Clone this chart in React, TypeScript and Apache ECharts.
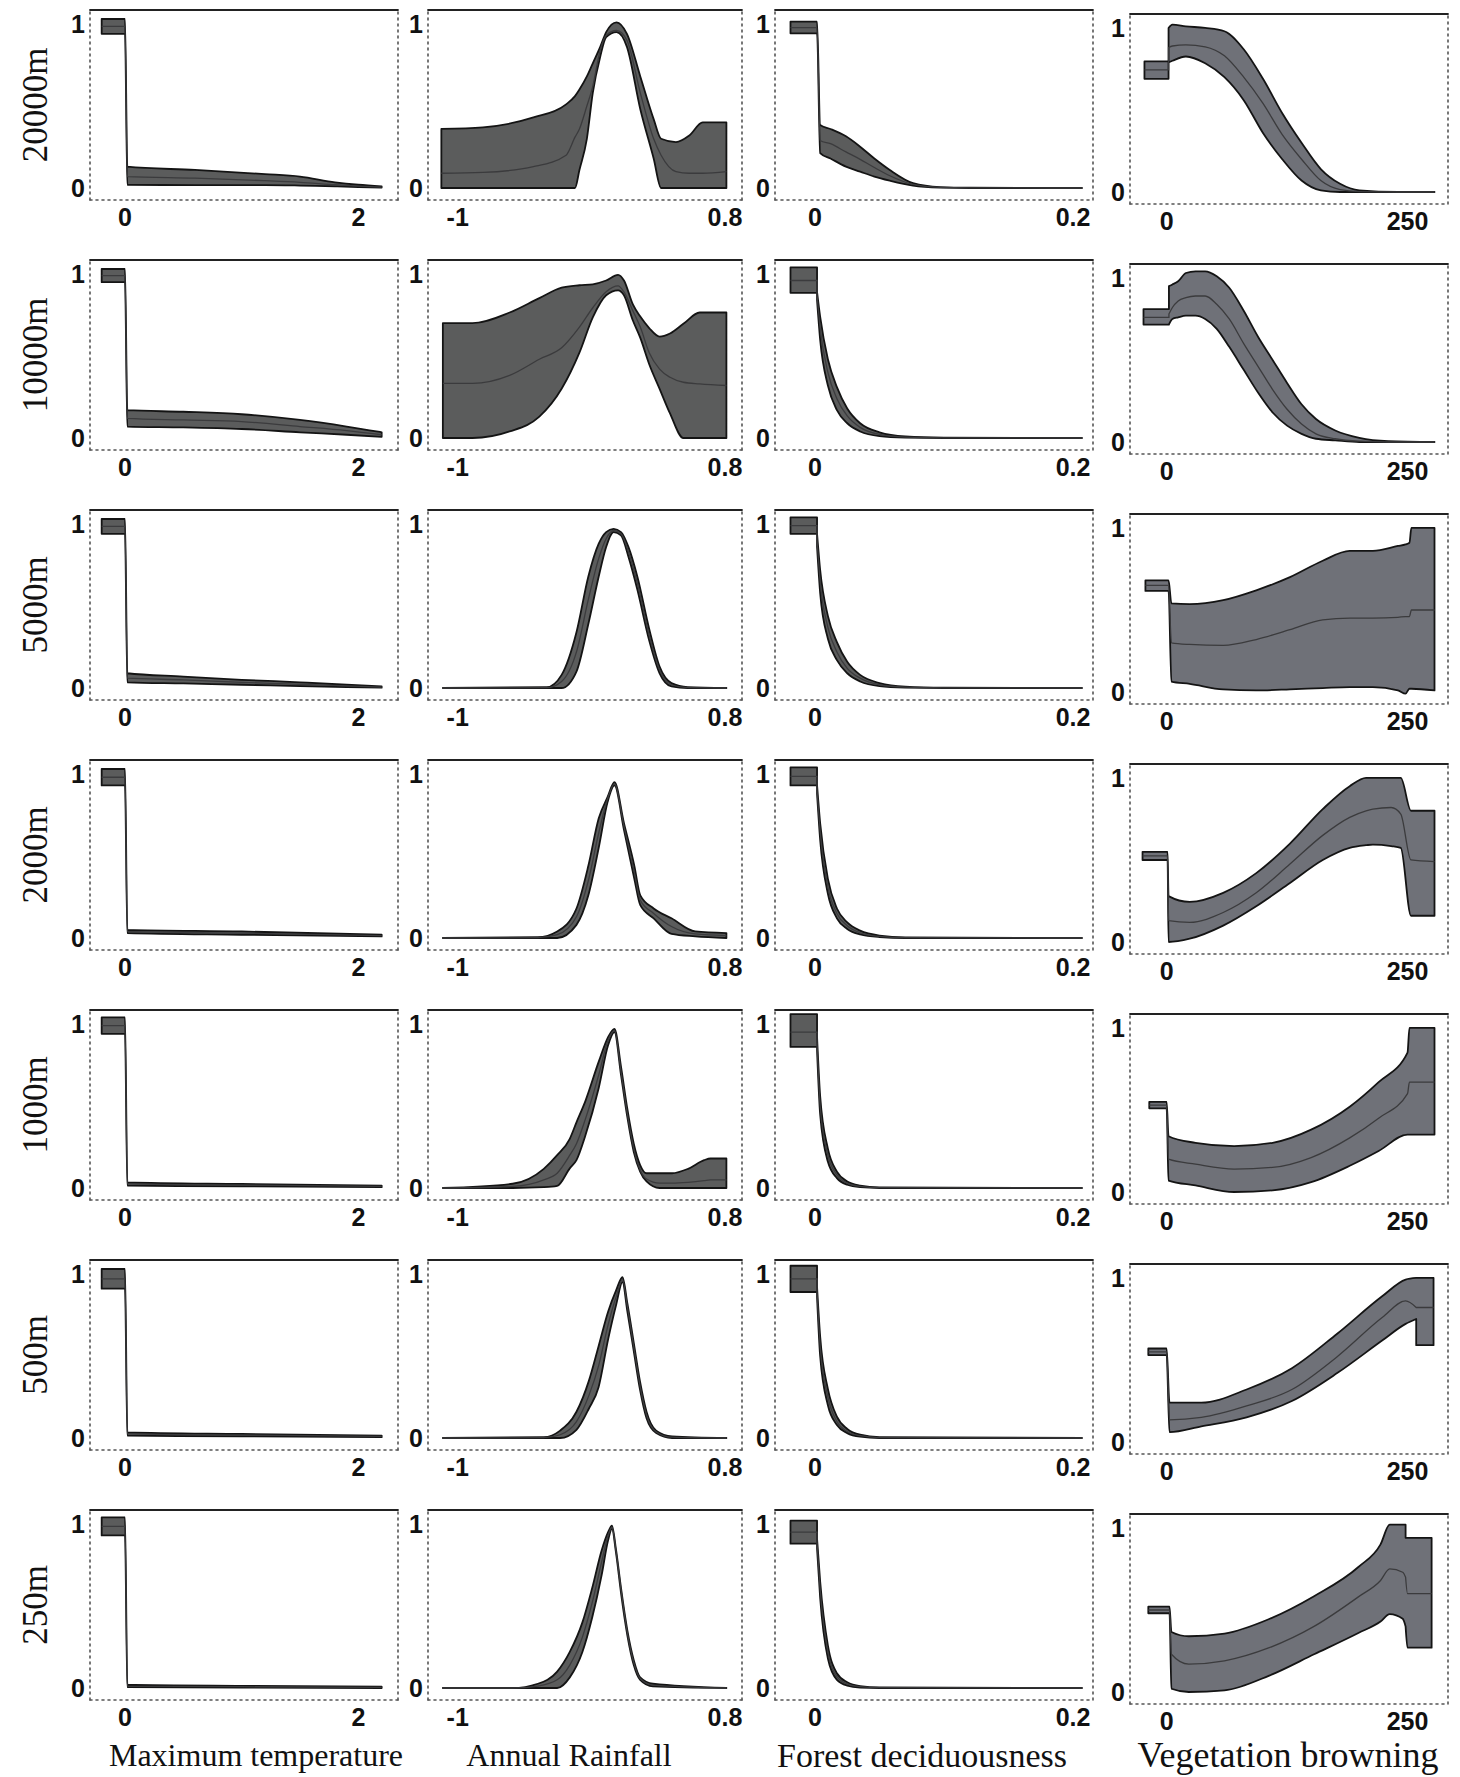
import React, { useEffect, useRef } from "react";
import * as echarts from "echarts";

// Each point: [x, lower, mean, upper]
type Pt = number[];

const rowLabels = ["20000m", "10000m", "5000m", "2000m", "1000m", "500m", "250m"];
const colTitles = ["Maximum temperature", "Annual Rainfall", "Forest deciduousness", "Vegetation browning"];
const colXRange = [[-0.3, 2.34], [-1.2, 0.915], [-0.031, 0.2155], [-38, 292]];
const colXTicks = [[0, 2], [-1, 0.8], [0, 0.2], [0, 250]];
const yTicks = [0, 1];

// ---- Maximum temperature ----
const mt20000: Pt[] = [[-0.2, 0.94, 0.985, 1.03], [0, 0.94, 0.985, 1.03], [0.02, 0.02, 0.07, 0.13], [0.6, 0.018, 0.06, 0.11], [1.2, 0.018, 0.045, 0.085], [1.5, 0.015, 0.035, 0.07], [1.8, 0.01, 0.02, 0.035], [2.0, 0.006, 0.012, 0.02], [2.2, 0.003, 0.006, 0.01]];
const mt10000: Pt[] = [[-0.2, 0.95, 0.99, 1.03], [0, 0.95, 0.99, 1.03], [0.02, 0.07, 0.12, 0.17], [0.5, 0.065, 0.11, 0.16], [1.0, 0.055, 0.1, 0.145], [1.5, 0.035, 0.07, 0.11], [1.9, 0.02, 0.045, 0.07], [2.2, 0.007, 0.02, 0.035]];
const mt5000: Pt[] = [[-0.2, 0.94, 0.985, 1.03], [0, 0.94, 0.985, 1.03], [0.02, 0.035, 0.06, 0.09], [0.5, 0.028, 0.05, 0.07], [1.0, 0.02, 0.035, 0.05], [1.5, 0.012, 0.022, 0.035], [1.9, 0.006, 0.013, 0.02], [2.2, 0.002, 0.006, 0.01]];
const mt2000: Pt[] = [[-0.2, 0.93, 0.98, 1.03], [0, 0.93, 0.98, 1.03], [0.02, 0.03, 0.04, 0.05], [1.0, 0.02, 0.03, 0.04], [2.2, 0.01, 0.015, 0.02]];
const mt1000: Pt[] = [[-0.2, 0.94, 0.99, 1.04], [0, 0.94, 0.99, 1.04], [0.02, 0.015, 0.025, 0.035], [1.0, 0.01, 0.018, 0.025], [2.2, 0.005, 0.01, 0.015]];
const mt500: Pt[] = [[-0.2, 0.91, 0.97, 1.03], [0, 0.91, 0.97, 1.03], [0.02, 0.015, 0.025, 0.035], [1.0, 0.01, 0.018, 0.025], [2.2, 0.005, 0.01, 0.015]];
const mt250: Pt[] = [[-0.2, 0.93, 0.985, 1.04], [0, 0.93, 0.985, 1.04], [0.02, 0.005, 0.012, 0.02], [1.0, 0.003, 0.008, 0.013], [2.2, 0, 0.004, 0.008]];

// ---- Annual rainfall ----
const ar20000: Pt[] = [[-1.11, 0, 0.09, 0.36], [-0.83, 0, 0.095, 0.37], [-0.49, 0, 0.13, 0.43], [-0.27, 0, 0.2, 0.51], [-0.21, 0, 0.31, 0.56], [-0.18, 0.11, 0.36, 0.6], [-0.13, 0.3, 0.5, 0.68], [-0.09, 0.58, 0.62, 0.76], [-0.04, 0.8, 0.84, 0.86], [0.0, 0.92, 0.93, 0.95], [0.07, 0.95, 0.96, 1.01], [0.14, 0.86, 0.9, 0.94], [0.23, 0.48, 0.58, 0.68], [0.32, 0.18, 0.3, 0.42], [0.37, 0, 0.2, 0.3], [0.47, 0, 0.1, 0.28], [0.56, 0, 0.09, 0.32], [0.65, 0, 0.09, 0.4], [0.81, 0, 0.1, 0.4]];
const ar10000: Pt[] = [[-1.1, 0, 0.333, 0.7], [-0.9, 0, 0.333, 0.7], [-0.65, 0.04, 0.382, 0.765], [-0.45, 0.13, 0.48, 0.853], [-0.3, 0.3, 0.55, 0.916], [-0.18, 0.52, 0.676, 0.931], [-0.09, 0.735, 0.794, 0.937], [0.0, 0.87, 0.892, 0.96], [0.08, 0.9, 0.927, 0.994], [0.12, 0.87, 0.89, 0.96], [0.18, 0.716, 0.775, 0.814], [0.23, 0.61, 0.676, 0.74], [0.29, 0.45, 0.52, 0.67], [0.36, 0.3, 0.42, 0.618], [0.43, 0.15, 0.37, 0.637], [0.52, 0, 0.34, 0.696], [0.63, 0, 0.33, 0.765], [0.81, 0, 0.32, 0.765]];
const ar5000: Pt[] = [[-1.1, 0, 0, 0], [-0.4, 0, 0.002, 0.005], [-0.3, 0, 0.04, 0.08], [-0.2, 0.1, 0.22, 0.34], [-0.12, 0.39, 0.54, 0.68], [-0.05, 0.68, 0.79, 0.88], [0.0, 0.86, 0.91, 0.95], [0.05, 0.95, 0.96, 0.97], [0.1, 0.93, 0.94, 0.95], [0.15, 0.8, 0.83, 0.86], [0.21, 0.6, 0.64, 0.68], [0.29, 0.29, 0.32, 0.36], [0.36, 0.09, 0.11, 0.13], [0.44, 0.01, 0.02, 0.03], [0.55, 0, 0.002, 0.005], [0.81, 0, 0, 0]];
const ar2000: Pt[] = [[-1.1, 0, 0, 0], [-0.46, 0, 0.002, 0.005], [-0.33, 0, 0.02, 0.04], [-0.2, 0.08, 0.13, 0.18], [-0.12, 0.26, 0.35, 0.44], [-0.05, 0.55, 0.64, 0.73], [0.01, 0.83, 0.85, 0.86], [0.056, 0.93, 0.94, 0.95], [0.12, 0.66, 0.68, 0.7], [0.19, 0.36, 0.4, 0.44], [0.23, 0.2, 0.23, 0.26], [0.32, 0.12, 0.15, 0.18], [0.44, 0.025, 0.07, 0.12], [0.6, 0.01, 0.025, 0.04], [0.81, 0, 0.015, 0.03]];
const ar1000: Pt[] = [[-1.1, 0, 0, 0], [-0.63, 0, 0.01, 0.026], [-0.42, 0.005, 0.05, 0.117], [-0.33, 0.013, 0.09, 0.2], [-0.245, 0.12, 0.2, 0.3], [-0.2, 0.17, 0.27, 0.4], [-0.14, 0.32, 0.42, 0.53], [-0.05, 0.61, 0.69, 0.77], [0.013, 0.87, 0.9, 0.92], [0.056, 0.95, 0.96, 0.97], [0.1, 0.69, 0.71, 0.74], [0.143, 0.43, 0.45, 0.48], [0.186, 0.22, 0.24, 0.27], [0.229, 0.1, 0.11, 0.14], [0.272, 0.04, 0.055, 0.09], [0.36, 0, 0.03, 0.09], [0.444, 0, 0.03, 0.09], [0.552, 0, 0.035, 0.117], [0.66, 0, 0.045, 0.17], [0.703, 0, 0.05, 0.18], [0.81, 0, 0.05, 0.18]];
const ar500: Pt[] = [[-1.1, 0, 0, 0], [-0.42, 0, 0.002, 0.005], [-0.31, 0, 0.02, 0.045], [-0.2, 0.05, 0.1, 0.16], [-0.116, 0.18, 0.26, 0.35], [-0.051, 0.31, 0.44, 0.56], [0.013, 0.6, 0.69, 0.77], [0.067, 0.81, 0.86, 0.9], [0.11, 0.95, 0.965, 0.98], [0.143, 0.77, 0.8, 0.82], [0.186, 0.53, 0.555, 0.58], [0.229, 0.29, 0.315, 0.34], [0.272, 0.12, 0.14, 0.16], [0.337, 0.03, 0.037, 0.045], [0.444, 0, 0.005, 0.01], [0.81, 0, 0, 0]];
const ar250: Pt[] = [[-1.1, 0, 0, 0], [-0.63, 0, 0, 0], [-0.46, 0, 0.012, 0.026], [-0.33, 0, 0.05, 0.1], [-0.245, 0.065, 0.14, 0.22], [-0.16, 0.22, 0.31, 0.4], [-0.094, 0.43, 0.52, 0.61], [-0.03, 0.69, 0.77, 0.84], [0.013, 0.9, 0.93, 0.95], [0.039, 0.97, 0.98, 0.99], [0.067, 0.82, 0.83, 0.84], [0.1, 0.58, 0.6, 0.61], [0.143, 0.32, 0.335, 0.35], [0.186, 0.14, 0.155, 0.17], [0.229, 0.05, 0.058, 0.065], [0.315, 0.01, 0.018, 0.026], [0.81, 0, 0, 0]];

// ---- Forest deciduousness ----
const fd20000: Pt[] = [[-0.019, 0.943, 0.978, 1.014], [0.0016, 0.943, 0.978, 1.014], [0.004, 0.213, 0.29, 0.384], [0.012, 0.18, 0.27, 0.36], [0.024, 0.13, 0.22, 0.315], [0.035, 0.1, 0.175, 0.252], [0.046, 0.07, 0.125, 0.18], [0.058, 0.045, 0.075, 0.11], [0.076, 0.015, 0.022, 0.03], [0.097, 0.003, 0.004, 0.006], [0.12, 0, 0.001, 0.002], [0.207, 0, 0, 0]];
const fd10000: Pt[] = [[-0.019, 0.885, 0.96, 1.04], [0.0016, 0.885, 0.96, 1.04], [0.0016, 0.84, 0.87, 0.89], [0.004, 0.6, 0.67, 0.74], [0.01, 0.32, 0.4, 0.48], [0.017, 0.17, 0.24, 0.31], [0.025, 0.09, 0.135, 0.18], [0.035, 0.04, 0.065, 0.09], [0.05, 0.012, 0.022, 0.035], [0.07, 0.003, 0.006, 0.01], [0.1, 0, 0.001, 0.003], [0.207, 0, 0, 0]];
const fd5000: Pt[] = [[-0.019, 0.94, 0.99, 1.04], [0.0016, 0.94, 0.99, 1.04], [0.0016, 0.86, 0.9, 0.94], [0.004, 0.58, 0.65, 0.72], [0.01, 0.3, 0.37, 0.44], [0.017, 0.17, 0.22, 0.28], [0.025, 0.09, 0.12, 0.16], [0.035, 0.04, 0.06, 0.08], [0.05, 0.012, 0.02, 0.03], [0.07, 0.003, 0.005, 0.008], [0.1, 0, 0.001, 0.002], [0.207, 0, 0, 0]];
const fd2000: Pt[] = [[-0.019, 0.93, 0.985, 1.04], [0.0016, 0.93, 0.985, 1.04], [0.0016, 0.88, 0.9, 0.93], [0.004, 0.6, 0.65, 0.7], [0.01, 0.27, 0.31, 0.36], [0.017, 0.12, 0.15, 0.18], [0.025, 0.055, 0.075, 0.095], [0.035, 0.022, 0.032, 0.045], [0.05, 0.006, 0.01, 0.015], [0.07, 0, 0.002, 0.004], [0.207, 0, 0, 0]];
const fd1000: Pt[] = [[-0.019, 0.86, 0.95, 1.06], [0.0016, 0.86, 0.95, 1.06], [0.0016, 0.84, 0.88, 0.92], [0.004, 0.45, 0.5, 0.56], [0.01, 0.16, 0.2, 0.24], [0.017, 0.06, 0.08, 0.1], [0.025, 0.02, 0.03, 0.04], [0.035, 0.005, 0.01, 0.015], [0.05, 0, 0.002, 0.004], [0.207, 0, 0, 0]];
const fd500: Pt[] = [[-0.019, 0.89, 0.97, 1.05], [0.0016, 0.89, 0.97, 1.05], [0.0016, 0.86, 0.89, 0.92], [0.004, 0.5, 0.56, 0.62], [0.01, 0.2, 0.25, 0.3], [0.017, 0.08, 0.1, 0.13], [0.025, 0.03, 0.04, 0.055], [0.035, 0.008, 0.014, 0.02], [0.05, 0, 0.003, 0.006], [0.207, 0, 0, 0]];
const fd250: Pt[] = [[-0.019, 0.88, 0.95, 1.02], [0.0016, 0.88, 0.95, 1.02], [0.0016, 0.85, 0.88, 0.91], [0.004, 0.55, 0.6, 0.65], [0.01, 0.18, 0.22, 0.26], [0.017, 0.05, 0.07, 0.09], [0.025, 0.015, 0.025, 0.035], [0.035, 0.003, 0.008, 0.012], [0.05, 0, 0.002, 0.004], [0.207, 0, 0, 0]];

// ---- Vegetation browning ----
const vb20000: Pt[] = [[-23, 0.69, 0.745, 0.796], [2, 0.69, 0.745, 0.796], [2, 0.79, 0.88, 1.0], [6, 0.8, 0.89, 1.02], [20, 0.826, 0.897, 1.01], [40, 0.785, 0.885, 1.0], [60, 0.7, 0.83, 0.98], [80, 0.56, 0.7, 0.87], [100, 0.36, 0.54, 0.69], [120, 0.2, 0.35, 0.48], [140, 0.07, 0.2, 0.3], [160, 0.01, 0.07, 0.14], [180, 0, 0.015, 0.05], [200, 0, 0.003, 0.01], [240, 0, 0, 0], [278, 0, 0, 0]];
const vb10000: Pt[] = [[-24, 0.716, 0.76, 0.81], [2.4, 0.716, 0.76, 0.81], [2.4, 0.716, 0.78, 0.95], [6, 0.75, 0.82, 0.96], [12, 0.76, 0.86, 0.98], [20, 0.77, 0.88, 1.03], [30, 0.77, 0.89, 1.04], [40, 0.75, 0.89, 1.04], [52, 0.69, 0.84, 1.01], [65, 0.58, 0.75, 0.94], [80, 0.44, 0.6, 0.8], [95, 0.3, 0.46, 0.64], [110, 0.18, 0.32, 0.5], [125, 0.1, 0.2, 0.36], [140, 0.05, 0.11, 0.23], [155, 0.02, 0.05, 0.14], [175, 0.01, 0.02, 0.07], [200, 0, 0.005, 0.025], [230, 0, 0, 0.005], [278, 0, 0, 0]];
const vb5000: Pt[] = [[-22, 0.616, 0.65, 0.68], [2, 0.616, 0.65, 0.68], [5, 0.064, 0.3, 0.54], [24, 0.05, 0.29, 0.536], [58.7, 0.016, 0.284, 0.56], [93, 0.01, 0.32, 0.62], [128, 0.016, 0.38, 0.7], [162, 0.024, 0.44, 0.8], [190, 0.03, 0.45, 0.86], [214, 0.03, 0.45, 0.86], [240, 0.01, 0.455, 0.89], [248, -0.01, 0.46, 0.9], [252, 0.02, 0.46, 0.91], [254, 0.02, 0.5, 1.0], [278, 0.01, 0.5, 1.0]];
const vb2000: Pt[] = [[-25, 0.5, 0.525, 0.55], [1, 0.5, 0.525, 0.55], [2, 0, 0.13, 0.28], [24, 0.02, 0.12, 0.245], [58.7, 0.1, 0.18, 0.3], [93, 0.218, 0.3, 0.42], [128, 0.36, 0.475, 0.6], [162, 0.5, 0.65, 0.81], [190, 0.574, 0.76, 0.95], [207, 0.59, 0.8, 1.0], [214, 0.594, 0.81, 1.0], [233, 0.585, 0.82, 1.0], [243, 0.574, 0.78, 1.0], [253.6, 0.16, 0.5, 0.8], [278, 0.16, 0.49, 0.8]];
const vb1000: Pt[] = [[-18, 0.51, 0.53, 0.55], [0, 0.51, 0.53, 0.55], [2, 0.07, 0.2, 0.34], [30, 0.04, 0.17, 0.3], [70, 0.0, 0.14, 0.28], [110, 0.01, 0.15, 0.3], [150, 0.06, 0.21, 0.38], [190, 0.16, 0.33, 0.52], [220, 0.25, 0.45, 0.67], [250, 0.35, 0.6, 0.85], [252, 0.35, 0.67, 1.0], [278, 0.35, 0.67, 1.0]];
const vb500: Pt[] = [[-19, 0.53, 0.55, 0.57], [0, 0.53, 0.55, 0.57], [3, 0.06, 0.135, 0.24], [36, 0.095, 0.15, 0.24], [83, 0.15, 0.22, 0.32], [130, 0.25, 0.32, 0.45], [177, 0.42, 0.52, 0.66], [224, 0.62, 0.76, 0.89], [248, 0.72, 0.86, 0.99], [259, 0.75, 0.82, 1.0], [259, 0.59, 0.82, 1.0], [277, 0.59, 0.82, 1.0]];
const vb250: Pt[] = [[-19, 0.48, 0.5, 0.52], [3, 0.48, 0.5, 0.52], [5, 0.02, 0.23, 0.366], [23, 0, 0.17, 0.34], [60, 0.01, 0.19, 0.356], [106.5, 0.1, 0.27, 0.445], [153, 0.23, 0.4, 0.584], [199, 0.36, 0.58, 0.762], [222, 0.43, 0.68, 0.9], [231.5, 0.475, 0.75, 1.02], [245, 0.446, 0.73, 1.02], [248, 0.4, 0.7, 1.02], [248, 0.4, 0.7, 0.94], [250, 0.27, 0.6, 0.94], [275, 0.27, 0.6, 0.94]];

const panels: Pt[][][] = [
  [mt20000, ar20000, fd20000, vb20000],
  [mt10000, ar10000, fd10000, vb10000],
  [mt5000, ar5000, fd5000, vb5000],
  [mt2000, ar2000, fd2000, vb2000],
  [mt1000, ar1000, fd1000, vb1000],
  [mt500, ar500, fd500, vb500],
  [mt250, ar250, fd250, vb250],
];

// layout (pixels)
const colLeft = [90, 428, 775, 1130];
const colRight = [398, 742, 1093, 1448];
const colDy = [0, 0, 0, 4];
const rowTop0 = 10;
const rowStep = 250;
const panelH = 190;
const yMin = -0.073;
const yMax = 1.085;
const bandFill = ["#5b5c5c", "#5b5c5c", "#5b5c5c", "#6f7178"];
const titleX = [256, 569, 922, 1288];
const titleSize = [32, 32, 34, 36];

// ---- monotone cubic path helpers (pixel space) ----
type Seg = { a: number[]; b: number[]; c1?: number[]; c2?: number[] };
const f = (p: number[]) => p[0].toFixed(2) + "," + p[1].toFixed(2);

function runSegs(P: number[][], out: Seg[]) {
  const n = P.length;
  if (n < 2) return;
  if (n === 2) { out.push({ a: P[0], b: P[1] }); return; }
  const h: number[] = [];
  const s: number[] = [];
  for (let i = 0; i < n - 1; i++) {
    h[i] = P[i + 1][0] - P[i][0];
    s[i] = (P[i + 1][1] - P[i][1]) / h[i];
  }
  const t: number[] = new Array(n).fill(0);
  for (let i = 1; i < n - 1; i++) {
    const p = (s[i - 1] * h[i] + s[i] * h[i - 1]) / (h[i - 1] + h[i]);
    t[i] = (Math.sign(s[i - 1]) + Math.sign(s[i])) * Math.min(Math.abs(s[i - 1]), Math.abs(s[i]), 0.5 * Math.abs(p)) || 0;
  }
  t[0] = (3 * s[0] - t[1]) / 2;
  t[n - 1] = (3 * s[n - 2] - t[n - 2]) / 2;
  if (Math.sign(t[0]) !== Math.sign(s[0])) t[0] = 0;
  if (Math.sign(t[n - 1]) !== Math.sign(s[n - 2])) t[n - 1] = 0;
  for (let i = 0; i < n - 1; i++) {
    const dx = h[i] / 3;
    out.push({
      a: P[i], b: P[i + 1],
      c1: [P[i][0] + dx, P[i][1] + dx * t[i]],
      c2: [P[i + 1][0] - dx, P[i + 1][1] - dx * t[i + 1]],
    });
  }
}

function buildSegs(P: number[][]): Seg[] {
  const segs: Seg[] = [];
  let start = 0;
  for (let i = 1; i <= P.length; i++) {
    if (i === P.length || Math.abs(P[i][0] - P[i - 1][0]) < 0.05) {
      runSegs(P.slice(start, i), segs);
      if (i < P.length) segs.push({ a: P[i - 1], b: P[i] });
      start = i;
    }
  }
  return segs;
}

const fwd = (segs: Seg[]) => segs.map((s) => (s.c1 ? "C" + f(s.c1) + " " + f(s.c2!) + " " + f(s.b) : "L" + f(s.b))).join("");
const rev = (segs: Seg[]) => segs.slice().reverse().map((s) => (s.c1 ? "C" + f(s.c2!) + " " + f(s.c1) + " " + f(s.a) : "L" + f(s.a))).join("");

function buildOption() {
  const grid: any[] = [];
  const xAxis: any[] = [];
  const yAxis: any[] = [];
  const series: any[] = [];
  const tickFont = { fontSize: 25, fontWeight: "bold", fontFamily: "Liberation Sans", color: "#111" };
  const dotted = { color: "#555", width: 1.6, type: [2, 4] };

  panels.forEach((row, r) => {
    row.forEach((pts, c) => {
      const gi = grid.length;
      const top = rowTop0 + rowStep * r + colDy[c];
      grid.push({ left: colLeft[c], top, width: colRight[c] - colLeft[c], height: panelH });
      const [xmin, xmax] = colXRange[c];
      xAxis.push({
        type: "value", gridIndex: gi, min: xmin, max: xmax, position: "bottom",
        axisLine: { show: true, onZero: false, lineStyle: dotted },
        axisTick: { show: false }, splitLine: { show: false },
        axisLabel: { customValues: colXTicks[c], margin: 4, ...tickFont },
      });
      xAxis.push({
        type: "value", gridIndex: gi, min: xmin, max: xmax, position: "top",
        axisLine: { show: true, onZero: false, lineStyle: { color: "#222", width: 1.8 } },
        axisTick: { show: false }, splitLine: { show: false }, axisLabel: { show: false },
      });
      yAxis.push({
        type: "value", gridIndex: gi, min: yMin, max: yMax, position: "left",
        axisLine: { show: true, onZero: false, lineStyle: dotted },
        axisTick: { show: false }, splitLine: { show: false },
        axisLabel: { customValues: yTicks, margin: 5, ...tickFont },
      });
      yAxis.push({
        type: "value", gridIndex: gi, min: yMin, max: yMax, position: "right",
        axisLine: { show: true, onZero: false, lineStyle: dotted },
        axisTick: { show: false }, splitLine: { show: false }, axisLabel: { show: false },
      });
      const xi = 2 * gi;
      const yi = 2 * gi;
      const fill = bandFill[c];
      series.push({
        type: "custom", xAxisIndex: xi, yAxisIndex: yi, silent: true, z: 2,
        data: pts, encode: { x: 0, y: 1 },
        renderItem: (params: any, api: any) => {
          if (params.dataIndex !== 0) return null;
          const up = pts.map((p) => api.coord([p[0], p[3]]));
          const lo = pts.map((p) => api.coord([p[0], p[1]]));
          const md = pts.map((p) => api.coord([p[0], p[2]]));
          const band = "M" + f(up[0]) + fwd(buildSegs(up)) + "L" + f(lo[lo.length - 1]) + rev(buildSegs(lo)) + "Z";
          const mean = "M" + f(md[0]) + fwd(buildSegs(md));
          return {
            type: "group",
            children: [
              { type: "path", shape: { pathData: band }, style: { fill, stroke: "#141414", lineWidth: 1.8, lineJoin: "round" } },
              { type: "path", shape: { pathData: mean }, style: { fill: "none", stroke: "#3b3b3d", lineWidth: 1.3 } },
            ],
          };
        },
      });
    });
  });

  const graphic: any[] = [];
  rowLabels.forEach((t, r) => {
    graphic.push({
      type: "text", x: 35, y: rowTop0 + rowStep * r + 95, rotation: Math.PI / 2,
      style: { text: t, fontSize: 35, fontFamily: "Liberation Serif", fill: "#111", align: "center", verticalAlign: "middle" },
    });
  });
  colTitles.forEach((t, c) => {
    graphic.push({
      type: "text", x: titleX[c], y: 1755,
      style: { text: t, fontSize: titleSize[c], fontFamily: "Liberation Serif", fill: "#111", align: "center", verticalAlign: "middle" },
    });
  });

  return { animation: false, backgroundColor: "#ffffff", grid, xAxis, yAxis, series, graphic };
}

export default function App() {
  const ref = useRef<HTMLDivElement>(null);
  useEffect(() => {
    if (!ref.current) return;
    const chart = echarts.init(ref.current, undefined, { renderer: "svg" });
    chart.setOption(buildOption() as any);
    return () => chart.dispose();
  }, []);
  return <div ref={ref} style={{ position: "absolute", left: 0, top: 0, width: 1460, height: 1777, background: "#fff" }} />;
}
